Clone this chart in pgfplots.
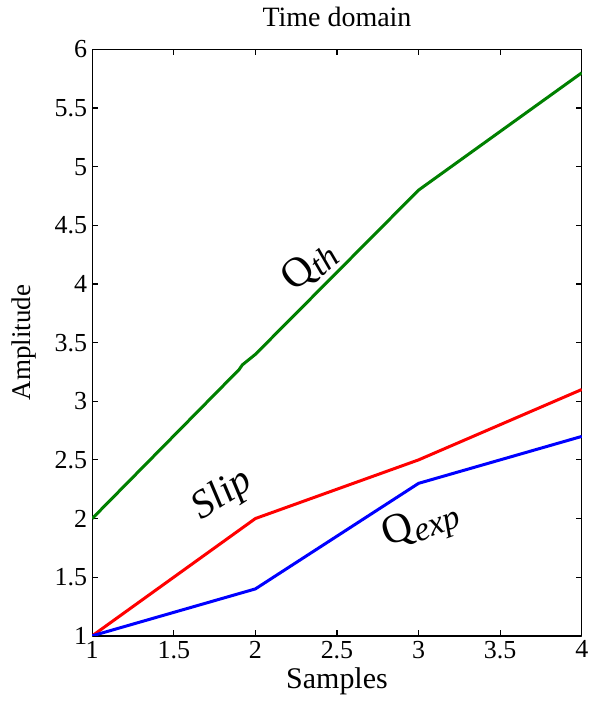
\documentclass[border=0pt]{standalone}
\usepackage{fontspec}
\setmainfont{Liberation Serif}
\usepackage{pgfplots}
\pgfplotsset{compat=1.18}
\definecolor{qth}{RGB}{0,128,0}
\definecolor{slip}{RGB}{255,0,0}
\definecolor{qexp}{RGB}{0,0,255}
\newcommand{\ann}[2]{{\fontsize{21}{21}\selectfont #1\raisebox{-3pt}{\fontsize{17}{17}\selectfont\itshape #2}}}
\begin{document}
\begin{tikzpicture}
\begin{axis}[scale only axis,width=245pt,height=293.5pt,
 xmin=1,xmax=4,ymin=1,ymax=6,
 xtick={1,1.5,...,4},ytick={1,1.5,...,6},
 tick align=inside,major tick length=3pt,
 axis line style={line width=0.7pt},every tick/.style={black,line width=0.6pt},
 /pgf/number format/assume math mode=true,
 tick label style={font=\fontsize{13}{13}\selectfont},
 xlabel style={font=\fontsize{15}{15}\selectfont,yshift=2pt},
 ylabel style={font=\fontsize{13.5}{13.5}\selectfont,inner ysep=5.8pt},
 title style={font=\fontsize{14}{14}\selectfont,yshift=2pt},
 xticklabel style={yshift=1pt},
 yticklabel style={xshift=1pt},
 title={Time domain},xlabel={Samples},ylabel={Amplitude},
 line join=round]
\addplot[qth,line width=1.5pt] coordinates {(1,2) (1.9,3.27) (1.92,3.31) (2,3.4) (3,4.8) (4,5.8)};
\addplot[slip,line width=1.5pt] coordinates {(1,1) (2,2) (3,2.5) (4,3.1)};
\addplot[qexp,line width=1.5pt] coordinates {(1,1) (2,1.4) (3,2.3) (4,2.7)};
\node[rotate=40] at (axis cs:2.33,4.15) {\ann{Q}{th}};
\node[rotate=33] at (axis cs:1.8,2.2) {{\fontsize{20}{20}\selectfont\itshape Slip}};
\node[rotate=20] at (axis cs:3.02,1.93) {\ann{Q}{exp}};
\end{axis}
\end{tikzpicture}
\end{document}
